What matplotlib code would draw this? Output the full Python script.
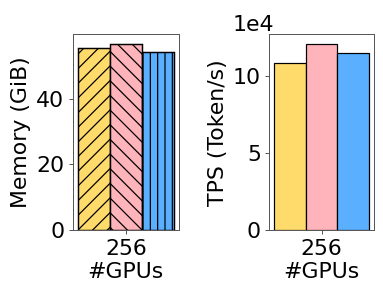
import numpy as np
import matplotlib
matplotlib.use("Agg")
from matplotlib import pyplot as plt

# Data
gpus = ["256"]
memory = [55.7, 56.9, 54.3]            # GiB, one bar per method
tps = [108600, 121000, 114900]         # Token/s, one bar per method

colors = ["#FFDB6B", "#FFB3BA", "#5AB0FF"]
hatches = ["//", "\\\\", "||"]

dpi = 88
fig = plt.figure(figsize=(383 / dpi, 296 / dpi), dpi=dpi)
plt.rcParams["hatch.linewidth"] = 1.0

ax1 = fig.add_axes([0.190, 0.223, 0.277, 0.661])
ax2 = fig.add_axes([0.703, 0.223, 0.273, 0.661])

x = np.arange(len(gpus))
w = 0.25

for i in range(3):
    ax1.bar(x + (i - 1) * w, [memory[i]], w, color=colors[i], hatch=hatches[i],
            edgecolor="black", linewidth=1.2)
    ax2.bar(x + (i - 1) * w, [tps[i]], w, color=colors[i],
            edgecolor="black", linewidth=1.0)

for ax, ylabel in [(ax1, "Memory (GiB)"), (ax2, "TPS (Token/s)")]:
    ax.set_xticks(x)
    ax.set_xticklabels(gpus)
    ax.set_xlabel("#GPUs", fontsize=18, labelpad=3)
    ax.set_ylabel(ylabel, fontsize=18)
    ax.tick_params(labelsize=18, color="#555555")
    for s in ax.spines.values():
        s.set_color("#555555")

ax1.set_yticks([0, 20, 40])
ax2.set_yticks([0, 50000, 100000])
ax2.ticklabel_format(axis="y", style="sci", scilimits=(4, 4))
ax2.yaxis.get_offset_text().set_fontsize(18)
ax2.yaxis.get_offset_text().set_x(-0.35)

fig.savefig("out.png", dpi=dpi)
